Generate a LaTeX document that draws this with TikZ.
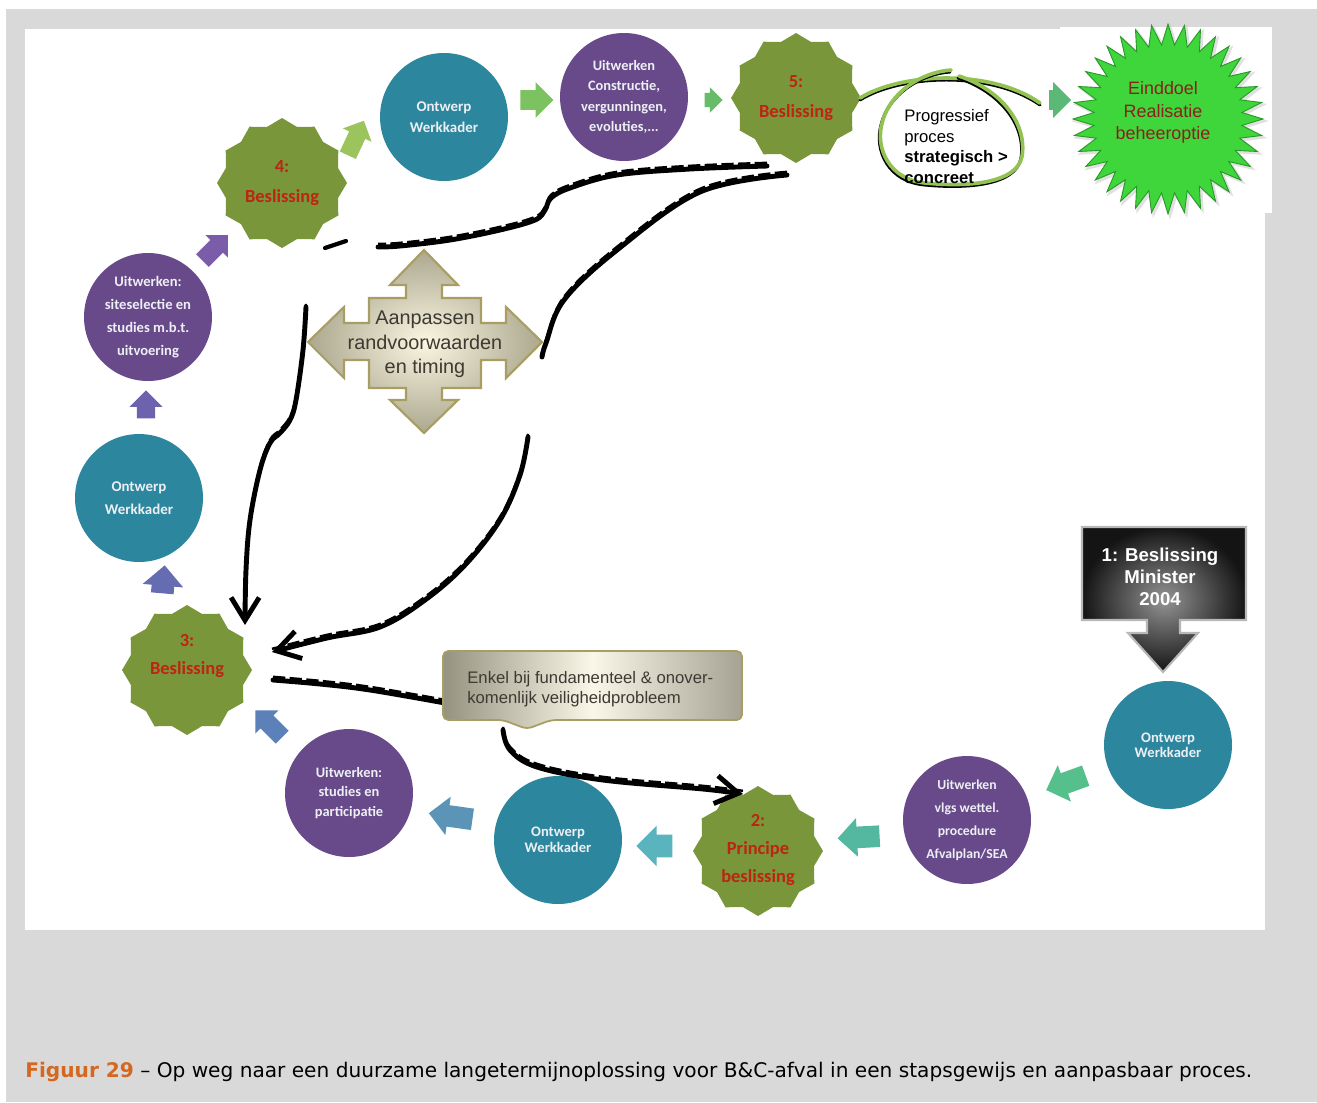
\documentclass[tikz,border=0pt]{standalone}
\usepackage{fontspec}
\setmainfont{Liberation Sans}
\newfontfamily\calfont{Carlito}
\newfontfamily\capfont{DejaVu Sans}
\usetikzlibrary{shapes.geometric,shapes.arrows,arrows.meta}
\newcommand{\setfs}[2]{\fontsize{#1}{#2}\selectfont}

\definecolor{bggray}{RGB}{217,217,217}
\definecolor{cteal}{RGB}{44,134,158}
\definecolor{cpurple}{RGB}{104,74,138}
\definecolor{colive}{RGB}{121,150,58}
\definecolor{decred}{RGB}{190,36,18}
\definecolor{nodetxt}{RGB}{236,239,243}
\definecolor{loopgreen}{RGB}{146,194,82}
\definecolor{goalgreen}{RGB}{62,214,58}
\definecolor{goaledge}{RGB}{40,150,40}
\definecolor{goaltxt}{RGB}{140,32,30}
\definecolor{quadin}{RGB}{250,246,226}
\definecolor{quadout}{RGB}{172,167,142}
\definecolor{quadedge}{RGB}{168,158,100}
\definecolor{calloutdark}{RGB}{150,146,128}
\definecolor{calloutlight}{RGB}{250,247,232}
\definecolor{boxtxt}{RGB}{60,58,50}
\definecolor{figorange}{RGB}{212,104,32}

\tikzset{
  phase/.style={circle, minimum size=2.56cm, inner sep=0pt, text=nodetxt, align=center},
  design/.style={phase, fill=cteal},
  work/.style={phase, fill=cpurple},
  decision/.style={star, star points=12, star point ratio=1.12, minimum size=2.6cm,
                   inner sep=0pt, fill=colive},
  dectext/.style={text=decred, align=center},
  flow/.style args={#1/#2}{single arrow, draw=none, inner xsep=0pt,
                   inner ysep=0.275*#2, single arrow head extend=0.225*#2, minimum height=#1},
  sketch/.style={line width=2.8pt, line cap=round, line join=round},
  sketchdash/.style={line width=1.4pt, dash pattern=on 7pt off 2.5pt,
                   transform canvas={yshift=1.8pt}},
  sketchtip/.style={-{Straight Barb[length=13pt,width=16pt]}},
  % hand-drawn connector courses
  curveA/.style={insert path={plot[smooth, tension=0.6] coordinates {(a1) (690,169) (617,175)
      (570,188) (551,198) (545,210) (535,220) (500,230) (450,240) (400,246) (378,247)}}},
  curveV/.style={insert path={plot[smooth, tension=0.6] coordinates {(v1) (303,350) (296,400)
      (290,420) (280,433) (270,443) (260,470) (250,520) (246,570) (v2)}}},
  curveB/.style={insert path={plot[smooth, tension=0.6] coordinates {(b1) (700,192) (617,250)
      (564,300) (546,343) (542,357)}}},
  curveL/.style={insert path={plot[smooth, tension=0.6] coordinates {(l1) (520,475) (500,520)
      (465,565) (425,600) (380,627) (327,638) (l2)}}},
  curveC/.style={insert path={plot[smooth, tension=0.6] coordinates {(c1) (320,684) (370,690) (c2)}}},
  curveD/.style={insert path={plot[smooth, tension=0.6] coordinates {(e1) (510,750) (537,767)
      (603,780) (703,789) (e2)}}},
}

\begin{document}
\begin{tikzpicture}[x=0.02cm,y=-0.02cm]
\useasboundingbox (0,0) rectangle (1317,1102);
\fill[white] (0,0) rectangle (1317,1102);
\fill[bggray] (6,9) rectangle (1317,1102);
\fill[white] (25,29) rectangle (1265,930);
\fill[white] (1060,27) rectangle (1272,213);

% process nodes
\node[design, font={\calfont\bfseries\setfs{8.5}{11.9}}] (ow5) at (444,117) {Ontwerp\\Werkkader};
\node[work, font={\calfont\bfseries\setfs{8.2}{11.7}}] (uw5) at (624,97)
  {Uitwerken\\Constructie,\\vergunningen,\\evoluties,...};
\node[decision] (d5) at (796,98) {};
\node[dectext, font={\calfont\bfseries\setfs{10.5}{17}}] (d5t) at (796,98) {5:\\Beslissing};
\node[decision] (d4) at (282,183) {};
\node[dectext, font={\calfont\bfseries\setfs{10.5}{17}}] (d4t) at (282,183) {4:\\Beslissing};
\node[work, font={\calfont\bfseries\setfs{8.3}{13}}] (uw4) at (148,317)
  {Uitwerken:\\siteselectie en\\studies m.b.t.\\uitvoering};
\node[design, font={\calfont\bfseries\setfs{8.5}{13}}] (ow4) at (139,498) {Ontwerp\\Werkkader};
\node[decision] (d3) at (187,670) {};
\node[dectext, font={\calfont\bfseries\setfs{10.5}{15.9}}] (d3t) at (187,656) {3:\\Beslissing};
\node[work, font={\calfont\bfseries\setfs{8.2}{11.3}}] (uw3) at (349,793)
  {Uitwerken:\\studies en\\participatie};
\node[design, font={\calfont\bfseries\setfs{8.3}{9}}] (ow3) at (558,840) {Ontwerp\\Werkkader};
\node[decision] (d2) at (758,851) {};
\node[dectext, font={\calfont\bfseries\setfs{10.5}{16.2}}] (d2t) at (758,850) {2:\\Principe\\beslissing};
\node[work, font={\calfont\bfseries\setfs{7.8}{13}}] (uw2) at (967,820)
  {Uitwerken\\vlgs wettel.\\procedure\\Afvalplan/SEA};
\node[design, font={\calfont\bfseries\setfs{8.3}{8.5}}] (ow2) at (1168,745) {Ontwerp\\Werkkader};

% flow arrows between the steps
\node[flow=0.76cm/0.62cm, rotate=65,  fill={rgb,255:red,155;green,196;blue,92}]  (f1)  at (354,142) {};
\node[flow=0.66cm/0.70cm, rotate=0,   fill={rgb,255:red,125;green,194;blue,96}]  (f2)  at (532,100) {};
\node[flow=0.36cm/0.50cm, rotate=0,   fill={rgb,255:red,102;green,188;blue,104}] (f3)  at (710,100) {};
\node[flow=0.44cm/0.70cm, rotate=0,   fill={rgb,255:red,92;green,184;blue,118}]  (f4)  at (1055,100) {};
\node[flow=0.72cm/0.62cm, rotate=45,  fill={rgb,255:red,122;green,92;blue,168}]  (f5)  at (212,251) {};
\node[flow=0.56cm/0.64cm, rotate=90,  fill={rgb,255:red,108;green,98;blue,174}]  (f6)  at (146,409) {};
\node[flow=0.56cm/0.80cm, rotate=85,  fill={rgb,255:red,102;green,108;blue,178}] (f7)  at (163,585) {};
\node[flow=0.76cm/0.64cm, rotate=135, fill={rgb,255:red,92;green,128;blue,184}]  (f8)  at (272,727) {};
\node[flow=0.88cm/0.76cm, rotate=172, fill={rgb,255:red,92;green,148;blue,184}]  (f9)  at (456,817) {};
\node[flow=0.72cm/0.80cm, rotate=180, fill={rgb,255:red,90;green,180;blue,190}]  (f10) at (660,846) {};
\node[flow=0.84cm/0.76cm, rotate=183, fill={rgb,255:red,84;green,184;blue,160}]  (f11) at (864,837) {};
\node[flow=0.84cm/0.76cm, rotate=200, fill={rgb,255:red,86;green,192;blue,140}]  (f12) at (1071,781) {};

% end points of the hand-drawn connectors
\coordinate (a1) at (767,166);
\coordinate (v1) at (306,307);
\coordinate (v2) at (245,625);
\coordinate (b1) at (787,175);
\coordinate (l1) at (528,437);
\coordinate (l2) at (272,652);
\coordinate (c1) at (273,680);
\coordinate (c2) at (445,703);
\coordinate (e1) at (503,730);
\coordinate (e2) at (743,794);

% hand-drawn connectors
\draw[sketch, curveA];        \draw[sketchdash, curveA];
\draw[sketch, line width=2.4pt] (325,248) -- (346,241);
\draw[sketch, sketchtip, curveV]; \draw[sketchdash, curveV];
\draw[sketch, curveB];        \draw[sketchdash, curveB];
\draw[sketch, sketchtip, curveL]; \draw[sketchdash, curveL];
\draw[sketch, curveC];        \draw[sketchdash, curveC];
\draw[sketch, sketchtip, curveD]; \draw[sketchdash, curveD];

% four-way arrow
\path[shade, inner color=quadin, outer color=quadout, draw=quadedge, line width=1.2pt, line join=miter]
  (424,250) -- (458,285) -- (442,285) -- (442,298) -- (481,298) -- (481,323) -- (506,323)
  -- (506,307) -- (542,342) -- (506,378) -- (506,360) -- (481,360) -- (481,388) -- (442,388)
  -- (442,400) -- (458,400) -- (424,433) -- (390,400) -- (406,400) -- (406,388) -- (369,388)
  -- (369,360) -- (344,360) -- (344,378) -- (308,342) -- (344,307) -- (344,323) -- (369,323)
  -- (369,298) -- (406,298) -- (406,285) -- (390,285) -- cycle;
\node[text=boxtxt, align=center, font=\setfs{11.3}{13.9}] (adjust) at (425,344.5)
  {Aanpassen\\randvoorwaarden\\en timing};

% condition callout
\path[shade, left color=calloutdark, right color=calloutdark!85!white, middle color=calloutlight,
      draw=quadedge, line width=1pt, rounded corners=3pt]
  (443,651) -- (742,651) -- (742,720) -- (551,720) -- (527,729) -- (503,720) -- (443,720) -- cycle;
\node[anchor=west, text=boxtxt, align=left, inner sep=0pt, font=\setfs{9.5}{11.3}] (cond) at (467,689.5)
  {Enkel bij fundamenteel \& onover-\\komenlijk veiligheidprobleem};

% ministerial decision with arrow
\path[shade, inner color=black!42, outer color=black!92, draw=black!28, line width=1.2pt]
  (1082,527) -- (1246,527) -- (1246,620) -- (1180,620) -- (1180,633) -- (1198,633)
  -- (1163,672) -- (1128,633) -- (1147,633) -- (1147,620) -- (1082,620) -- cycle;
\node[text=white, align=center, font=\bfseries\setfs{10.6}{12.5}] (d1) at (1160,577)
  {1: Beslissing\\Minister\\2004};

% final goal
\node[star, star points=36, star point ratio=1.28, minimum size=3.95cm, inner sep=0pt,
      fill=black!22, opacity=0.55] (goalshadow) at (1170,121) {};
\node[star, star points=36, star point ratio=1.28, minimum size=3.8cm, inner sep=0pt,
      fill=goalgreen, draw=goaledge, line width=0.5pt] (goal) at (1168,119) {};
\node[text=goaltxt, align=center, font=\setfs{10.2}{12.8}] (goalt) at (1163,112.5)
  {Einddoel\\Realisatie\\beheeroptie};

% progressive process, hand-drawn loops
\draw[black, line width=1.7pt, line cap=round]
  (860,100) .. controls (900,75) and (990,70) .. (1040,105);
\draw[loopgreen, line width=2.1pt, line cap=round, transform canvas={yshift=1.1pt}]
  (860,100) .. controls (900,75) and (990,70) .. (1040,105);
\draw[black, line width=1.7pt, line cap=round]
  (958,78) .. controls (1000,92) and (1026,125) .. (1021,158)
  .. controls (1016,186) and (965,189) .. (925,185)
  .. controls (888,182) and (874,150) .. (881,125)
  .. controls (888,95) and (920,74) .. (950,72);
\draw[loopgreen, line width=2.1pt, line cap=round, transform canvas={yshift=1.1pt, xshift=0.6pt}]
  (958,78) .. controls (1000,92) and (1026,125) .. (1021,158)
  .. controls (1016,186) and (965,189) .. (925,185)
  .. controls (888,182) and (874,150) .. (881,125)
  .. controls (888,95) and (920,74) .. (950,72);
\node[anchor=west, align=left, inner sep=0pt, font=\setfs{9.5}{11.6}] (prog) at (904,146.5)
  {Progressief\\proces\\\textbf{strategisch >}\\\textbf{concreet}};

% caption
\node[anchor=base west, inner sep=0pt, font=\capfont\setfs{11.45}{13}] (cap) at (25,1077)
  {\textcolor{figorange}{\bfseries Figuur 29} – Op weg naar een duurzame langetermijnoplossing voor B\&C-afval in een stapsgewijs en aanpasbaar proces.};
\end{tikzpicture}
\end{document}
